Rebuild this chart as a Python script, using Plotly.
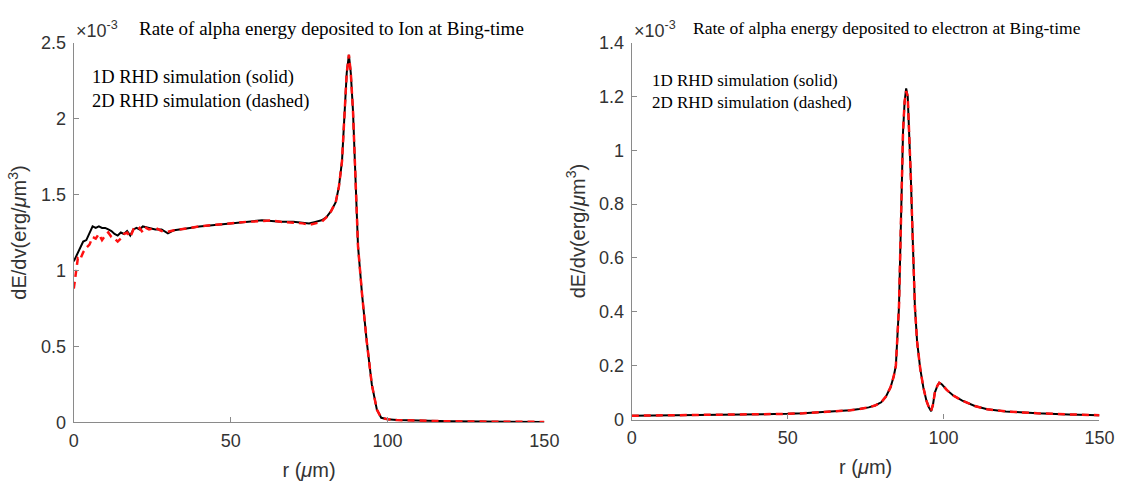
import plotly.graph_objects as go

# ---------------- data (values in units of 1e-3 erg/um^3) ----------------
# Left panel: ion
ion_r_1d = [0, 1, 2, 3, 4, 5, 6, 7, 8, 9, 10, 11, 12, 13, 14, 15, 16, 17, 18, 19, 20,
            21, 22, 24, 26, 28, 30, 32, 34, 37, 40, 45, 50, 55, 60, 63, 66, 70, 73, 75,
            77, 79, 80.5, 82, 83.5, 84.5, 85.5, 86.3, 87, 87.7, 88.3, 89, 89.6, 90.6,
            91.9, 93.4, 95, 96.6, 98, 100, 103, 110, 120, 130, 140, 150]
ion_v_1d = [1.06, 1.10, 1.15, 1.19, 1.20, 1.24, 1.29, 1.28, 1.29, 1.28, 1.28, 1.27, 1.26,
            1.24, 1.23, 1.25, 1.24, 1.26, 1.23, 1.27, 1.28, 1.27, 1.29, 1.28, 1.27, 1.27,
            1.245, 1.265, 1.27, 1.28, 1.29, 1.30, 1.31, 1.32, 1.33, 1.325, 1.32, 1.32,
            1.315, 1.31, 1.32, 1.33, 1.35, 1.39, 1.45, 1.55, 1.72, 2.0, 2.3, 2.42, 2.30,
            2.05, 1.69, 1.16, 0.84, 0.53, 0.25, 0.085, 0.03, 0.02, 0.015, 0.01, 0.007,
            0.005, 0.004, 0.003]

ion_r_2d = [0, 0.7, 1.3, 2, 3, 4, 5, 6, 7, 8, 9, 10, 11, 12, 13, 14, 15, 16, 17, 18, 19,
            20, 21, 22, 23, 24, 26, 28, 30, 32, 34, 37, 40, 45, 50, 55, 60, 63, 66, 70,
            73, 75, 77, 79, 80.5, 82, 83.5, 84.5, 85.5, 86.3, 87, 87.7, 88.3, 89, 89.6,
            90.6, 91.9, 93.4, 95, 96.6, 98, 100, 103, 110, 120, 130, 140, 150]
ion_v_2d = [0.88, 1.00, 1.08, 1.07, 1.12, 1.15, 1.17, 1.22, 1.21, 1.24, 1.20, 1.23, 1.25,
            1.22, 1.21, 1.19, 1.21, 1.24, 1.25, 1.22, 1.27, 1.26, 1.28, 1.25, 1.28, 1.27,
            1.28, 1.26, 1.255, 1.265, 1.27, 1.28, 1.29, 1.30, 1.31, 1.32, 1.325, 1.33,
            1.32, 1.315, 1.31, 1.30, 1.31, 1.32, 1.35, 1.39, 1.45, 1.55, 1.72, 2.0, 2.3,
            2.42, 2.30, 2.05, 1.69, 1.16, 0.84, 0.53, 0.25, 0.085, 0.03, 0.02, 0.015,
            0.01, 0.007, 0.005, 0.004, 0.003]

# Right panel: electron
ele_r = [0, 10, 20, 30, 40, 50, 55, 60, 65, 70, 73, 76, 78, 80, 81.5, 83, 84, 84.7, 85.7,
         86.3, 87, 87.5, 88, 88.5, 89, 89.5, 90, 90.8, 91.5, 92.5, 93.5, 94.5, 95.3, 96,
         96.6, 97.2, 98, 98.6, 99.5, 101, 103, 106, 110, 114, 120, 130, 140, 150]
ele_v_1d = [0.014, 0.015, 0.016, 0.017, 0.019, 0.021, 0.023, 0.026, 0.029, 0.034, 0.039,
            0.045, 0.052, 0.064, 0.085, 0.12, 0.16, 0.20, 0.42, 0.71, 1.07, 1.18, 1.23,
            1.20, 1.07, 0.90, 0.71, 0.42, 0.29, 0.19, 0.12, 0.07, 0.045, 0.031, 0.055,
            0.10, 0.125, 0.137, 0.13, 0.110, 0.09, 0.07, 0.05, 0.038, 0.030, 0.023,
            0.019, 0.016]
ele_v_2d = [0.014, 0.015, 0.016, 0.017, 0.019, 0.021, 0.023, 0.026, 0.029, 0.034, 0.039,
            0.045, 0.052, 0.064, 0.085, 0.12, 0.16, 0.20, 0.42, 0.71, 1.07, 1.18, 1.22,
            1.20, 1.07, 0.90, 0.71, 0.42, 0.29, 0.19, 0.12, 0.07, 0.045, 0.032, 0.055,
            0.10, 0.125, 0.136, 0.13, 0.110, 0.09, 0.07, 0.05, 0.038, 0.030, 0.023,
            0.019, 0.016]

x_ticks = [0, 50, 100, 150]
ion_yticks = [0, 0.5, 1, 1.5, 2, 2.5]
ion_yticktext = ["0", "0.5", "1", "1.5", "2", "2.5"]
ele_yticks = [0, 0.2, 0.4, 0.6, 0.8, 1.0, 1.2, 1.4]
ele_yticktext = ["0", "0.2", "0.4", "0.6", "0.8", "1", "1.2", "1.4"]

titles = ["Rate of alpha energy deposited to Ion at Bing-time",
          "Rate of alpha energy deposited to electron at Bing-time"]
legend_lines = ["1D RHD simulation (solid)", "2D RHD simulation (dashed)"]
x_title = "r (<i>μ</i>m)"
y_title = "dE/dv(erg/<i>μ</i>m<sup>3</sup>)"
exp_label = "×10<sup>-3</sup>"

# ---------------- figure ----------------
W, H = 1140, 488
SANS = "Liberation Sans, Arial, sans-serif"
SERIF = "Liberation Serif, Times New Roman, serif"
AX = "#8a8a8a"
TXT = "#333333"

fig = go.Figure()
solid = dict(color="black", width=2)
dashed = dict(color="#ff1010", width=2.5, dash="7px,5px")

fig.add_trace(go.Scatter(x=ion_r_1d, y=ion_v_1d, mode="lines", line=solid,
                         xaxis="x", yaxis="y", showlegend=False))
fig.add_trace(go.Scatter(x=ion_r_2d, y=ion_v_2d, mode="lines", line=dashed,
                         xaxis="x", yaxis="y", showlegend=False))
fig.add_trace(go.Scatter(x=ele_r, y=ele_v_1d, mode="lines", line=solid,
                         xaxis="x2", yaxis="y2", showlegend=False))
fig.add_trace(go.Scatter(x=ele_r, y=ele_v_2d, mode="lines", line=dashed,
                         xaxis="x2", yaxis="y2", showlegend=False))

def px_x(p):
    return p / W

def px_y(p):
    return 1 - p / H

common_x = dict(range=[0, 150], tickvals=x_ticks, ticks="inside", ticklen=5,
                tickcolor=AX, showline=True, linecolor=AX, linewidth=1.3,
                showgrid=False, zeroline=False, mirror=False, ticklabelstandoff=2,
                tickfont=dict(family=SANS, size=18, color=TXT),
                title=dict(text=x_title, font=dict(family=SANS, size=20, color=TXT),
                           standoff=12))
common_y = dict(ticks="inside", ticklen=5, tickcolor=AX, showline=True, linecolor=AX,
                linewidth=1.3, showgrid=False, zeroline=False, mirror=False,
                ticklabelstandoff=3,
                tickfont=dict(family=SANS, size=18, color=TXT),
                title=dict(text=y_title, font=dict(family=SANS, size=20, color=TXT),
                           standoff=8))

fig.update_layout(
    width=W, height=H,
    margin=dict(l=0, r=0, t=0, b=0),
    paper_bgcolor="white", plot_bgcolor="white",
    xaxis=dict(domain=[px_x(70), px_x(549)], anchor="y", **common_x),
    yaxis=dict(domain=[px_y(430), px_y(34)], anchor="x", range=[0, 2.5],
               tickvals=ion_yticks, ticktext=ion_yticktext, **common_y),
    xaxis2=dict(domain=[px_x(638), px_x(1114)], anchor="y2", **common_x),
    yaxis2=dict(domain=[px_y(427), px_y(34)], anchor="x2", range=[0, 1.4],
                tickvals=ele_yticks, ticktext=ele_yticktext, **common_y),
)

ann = []
# titles
ann.append(dict(text=titles[0], x=px_x(134), y=px_y(19), xref="paper", yref="paper",
                xanchor="left", yanchor="middle", showarrow=False,
                font=dict(family=SERIF, size=19, color="black")))
ann.append(dict(text=titles[1], x=px_x(698), y=px_y(19), xref="paper", yref="paper",
                xanchor="left", yanchor="middle", showarrow=False,
                font=dict(family=SERIF, size=17.5, color="black")))
# exponent labels
for xs in (70, 638):
    ann.append(dict(text=exp_label, x=px_x(xs), y=px_y(20), xref="paper", yref="paper",
                    xanchor="left", yanchor="middle", showarrow=False,
                    font=dict(family=SANS, size=18, color=TXT)))
# legend-like text
for (xs, ys, fs) in ((87, (70, 95), 18.5), (657, (74, 96), 17)):
    for txt, yy in zip(legend_lines, ys):
        ann.append(dict(text=txt, x=px_x(xs), y=px_y(yy), xref="paper", yref="paper",
                        xanchor="left", yanchor="middle", showarrow=False,
                        font=dict(family=SERIF, size=fs, color="black")))
fig.update_layout(annotations=ann)

fig.write_html("out.html")
